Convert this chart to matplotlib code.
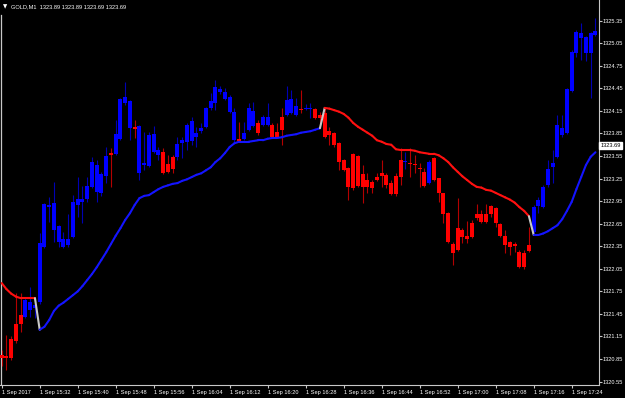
import numpy as np
import matplotlib
matplotlib.use('Agg')
import matplotlib.pyplot as plt
from matplotlib.collections import LineCollection

plt.rcParams['font.family'] = ['Liberation Sans', 'DejaVu Sans']

# GOLD M1 bars, 15:24 .. 17:29
opens = [
    1320.90, 1320.89, 1321.12, 1321.32, 1321.44, 1321.41, 1321.50, 1321.53, 1321.61, 1322.34,
    1322.87, 1322.57, 1322.41, 1322.34, 1322.37, 1322.47, 1322.90, 1322.94, 1322.98, 1323.14,
    1323.07, 1323.06, 1323.28, 1323.59, 1323.58, 1323.78, 1324.26, 1323.92, 1323.94, 1323.32,
    1323.43, 1323.42, 1323.60, 1323.56, 1323.60, 1323.44, 1323.54, 1323.54, 1323.72, 1323.74,
    1323.75, 1323.80, 1323.88, 1323.94, 1324.19, 1324.26, 1324.40, 1324.31, 1324.14, 1323.76,
    1323.78, 1323.78, 1323.90, 1323.95, 1323.99, 1323.96, 1323.96, 1323.96, 1323.87, 1324.07,
    1324.10, 1324.12, 1324.10, 1324.18, 1324.18, 1324.18, 1324.18, 1324.10, 1324.12, 1323.88,
    1323.86, 1323.72, 1323.50, 1323.39, 1323.58, 1323.55, 1323.31, 1323.23, 1323.20, 1323.27,
    1323.33, 1323.30, 1323.19, 1323.28, 1323.50, 1323.47, 1323.46, 1323.44, 1323.39, 1323.34,
    1323.19, 1323.52, 1323.26, 1323.06, 1322.79, 1322.38, 1322.59, 1322.57, 1322.49, 1322.66,
    1322.78, 1322.78, 1322.78, 1322.89, 1322.86, 1322.65, 1322.49, 1322.41, 1322.38, 1322.27,
    1322.26, 1322.37, 1322.54, 1322.89, 1322.87, 1323.16, 1323.40, 1323.54, 1323.83, 1323.86,
    1324.41, 1324.92, 1325.12, 1324.92, 1324.92, 1325.16]
highs = [
    1320.97, 1321.17, 1321.16, 1321.73, 1321.73, 1321.66, 1321.81, 1321.68, 1322.53, 1322.93,
    1323.00, 1323.20, 1322.63, 1322.54, 1322.78, 1323.03, 1323.27, 1323.15, 1323.27, 1323.54,
    1323.50, 1323.34, 1323.67, 1323.66, 1324.03, 1324.32, 1324.53, 1324.30, 1324.03, 1323.96,
    1323.87, 1323.87, 1323.95, 1323.67, 1323.66, 1323.56, 1323.56, 1323.80, 1323.80, 1323.99,
    1324.07, 1323.94, 1323.99, 1324.20, 1324.39, 1324.56, 1324.48, 1324.45, 1324.36, 1324.19,
    1324.00, 1324.00, 1324.26, 1324.27, 1324.03, 1324.10, 1324.26, 1323.99, 1323.99, 1324.19,
    1324.48, 1324.43, 1324.32, 1324.43, 1324.24, 1324.26, 1324.19, 1324.14, 1324.19, 1323.94,
    1323.87, 1323.74, 1323.51, 1323.40, 1323.59, 1323.56, 1323.43, 1323.33, 1323.23, 1323.33,
    1323.50, 1323.33, 1323.23, 1323.33, 1323.66, 1323.60, 1323.66, 1323.56, 1323.46, 1323.39,
    1323.50, 1323.54, 1323.26, 1323.06, 1322.81, 1322.41, 1322.99, 1322.59, 1322.69, 1322.70,
    1322.91, 1322.83, 1322.91, 1322.90, 1322.87, 1322.66, 1322.57, 1322.42, 1322.41, 1322.30,
    1322.30, 1322.61, 1322.90, 1323.00, 1323.16, 1323.50, 1323.63, 1324.10, 1324.10, 1324.45,
    1324.96, 1325.23, 1325.32, 1325.15, 1325.20, 1325.39]
lows = [
    1320.76, 1320.70, 1320.84, 1321.06, 1321.21, 1321.40, 1321.41, 1321.40, 1321.58, 1322.33,
    1322.67, 1322.41, 1322.34, 1322.33, 1322.34, 1322.46, 1322.74, 1322.66, 1322.94, 1323.12,
    1322.94, 1323.02, 1323.19, 1323.14, 1323.56, 1323.76, 1324.23, 1323.76, 1323.79, 1323.23,
    1323.36, 1323.40, 1323.59, 1323.50, 1323.31, 1323.32, 1323.32, 1323.50, 1323.52, 1323.63,
    1323.70, 1323.67, 1323.86, 1323.92, 1324.16, 1324.16, 1324.37, 1324.30, 1324.12, 1323.74,
    1323.74, 1323.76, 1323.88, 1323.94, 1323.83, 1323.95, 1323.95, 1323.79, 1323.79, 1323.70,
    1324.08, 1324.11, 1324.08, 1324.12, 1324.16, 1324.06, 1324.04, 1323.92, 1323.79, 1323.70,
    1323.67, 1323.36, 1323.35, 1322.97, 1323.10, 1323.14, 1322.93, 1323.06, 1323.06, 1323.22,
    1323.14, 1323.12, 1323.03, 1323.02, 1323.17, 1323.38, 1323.27, 1323.32, 1323.14, 1323.14,
    1323.18, 1323.22, 1322.94, 1322.66, 1322.39, 1322.10, 1322.29, 1322.39, 1322.39, 1322.46,
    1322.70, 1322.66, 1322.66, 1322.74, 1322.61, 1322.47, 1322.26, 1322.23, 1322.27, 1322.06,
    1322.05, 1322.27, 1322.53, 1322.79, 1322.86, 1323.14, 1323.19, 1323.52, 1323.80, 1323.84,
    1324.40, 1324.87, 1324.83, 1324.81, 1324.32, 1325.15]
closes = [
    1320.86, 1320.86, 1320.86, 1321.09, 1321.32, 1321.64, 1321.61, 1321.57, 1322.39, 1322.91,
    1322.90, 1322.93, 1322.62, 1322.45, 1322.45, 1322.94, 1322.98, 1322.98, 1323.15, 1323.47,
    1323.43, 1323.31, 1323.55, 1323.56, 1323.84, 1324.31, 1324.34, 1324.28, 1323.91, 1323.95,
    1323.46, 1323.83, 1323.84, 1323.63, 1323.32, 1323.34, 1323.38, 1323.71, 1323.76, 1323.96,
    1324.02, 1323.86, 1323.92, 1324.19, 1324.28, 1324.47, 1324.44, 1324.40, 1324.34, 1324.14,
    1323.75, 1323.86, 1324.19, 1324.15, 1323.86, 1324.07, 1324.07, 1323.80, 1323.80, 1323.90,
    1324.30, 1324.31, 1324.22, 1324.16, 1324.19, 1324.19, 1324.06, 1324.06, 1323.80, 1323.83,
    1323.70, 1323.47, 1323.36, 1323.14, 1323.12, 1323.15, 1323.14, 1323.14, 1323.12, 1323.23,
    1323.28, 1323.17, 1323.05, 1323.05, 1323.27, 1323.48, 1323.44, 1323.43, 1323.38, 1323.15,
    1323.47, 1323.23, 1323.06, 1322.78, 1322.41, 1322.26, 1322.30, 1322.47, 1322.45, 1322.47,
    1322.73, 1322.67, 1322.67, 1322.78, 1322.66, 1322.49, 1322.37, 1322.34, 1322.35, 1322.07,
    1322.07, 1322.29, 1322.87, 1322.97, 1323.14, 1323.38, 1323.46, 1323.96, 1323.92, 1324.44,
    1324.93, 1325.20, 1325.19, 1325.13, 1325.19, 1325.21]
# bar colour painted by the indicator (b = up, r = down)
bar_side = ('rrrrr' 'bbbbbbbbbbbbbbbbbb' 'r' 'bbbb' 'r' 'bbbbb' 'rrr'
            'bbbbbbbbbbbbb' 'r' 'bbb' 'r' 'bb' 'rrr' 'bbb' 'r' 'bb'
            'rrrrrrrrrrrrrrrrrrr' 'b' 'rrrr' 'b' 'rrrrrrrrrrrrrrrrrrrrr'
            'bbbbbbbbbbbbbb')

# trailing trend line
trend = [
    1321.86, 1321.78, 1321.72, 1321.68, 1321.66, 1321.66, 1321.66, 1321.66, 1321.24, 1321.28,
    1321.37, 1321.49, 1321.56, 1321.60, 1321.65, 1321.70, 1321.75, 1321.82, 1321.90, 1321.98,
    1322.07, 1322.17, 1322.27, 1322.38, 1322.49, 1322.59, 1322.70, 1322.79, 1322.90, 1322.99,
    1323.02, 1323.03, 1323.07, 1323.11, 1323.14, 1323.16, 1323.18, 1323.19, 1323.22, 1323.24,
    1323.27, 1323.30, 1323.32, 1323.36, 1323.40, 1323.47, 1323.52, 1323.59, 1323.67, 1323.72,
    1323.74, 1323.74, 1323.74, 1323.75, 1323.76, 1323.76, 1323.78, 1323.79, 1323.79, 1323.80,
    1323.82, 1323.83, 1323.84, 1323.86, 1323.87, 1323.88, 1323.90, 1323.92, 1324.19, 1324.18,
    1324.16, 1324.14, 1324.11, 1324.06, 1323.99, 1323.94, 1323.90, 1323.86, 1323.82, 1323.76,
    1323.74, 1323.71, 1323.70, 1323.64, 1323.63, 1323.63, 1323.63, 1323.62, 1323.60, 1323.59,
    1323.58, 1323.58, 1323.56, 1323.52, 1323.47, 1323.40, 1323.34, 1323.28, 1323.23, 1323.18,
    1323.14, 1323.13, 1323.10, 1323.09, 1323.06, 1323.03, 1323.00, 1322.97, 1322.93, 1322.87,
    1322.82, 1322.75, 1322.50, 1322.50, 1322.52, 1322.55, 1322.59, 1322.63, 1322.71, 1322.82,
    1322.94, 1323.11, 1323.27, 1323.43, 1323.54, 1323.60]
trend_side = 'r' * 8 + 'b' * 60 + 'r' * 44 + 'b' * 14

time_labels = ['1 Sep 2017', '1 Sep 15:32', '1 Sep 15:40', '1 Sep 15:48', '1 Sep 15:56',
               '1 Sep 16:04', '1 Sep 16:12', '1 Sep 16:20', '1 Sep 16:28', '1 Sep 16:36',
               '1 Sep 16:44', '1 Sep 16:52', '1 Sep 17:00', '1 Sep 17:08', '1 Sep 17:16',
               '1 Sep 17:24']
price_ticks = [1320.55, 1320.85, 1321.15, 1321.45, 1321.75, 1322.05, 1322.35, 1322.65,
               1322.95, 1323.25, 1323.55, 1323.85, 1324.15, 1324.45, 1324.75, 1325.05, 1325.35]
header = 'GOLD,M1  1323.89 1323.89 1323.69 1323.69'
bid = 1323.69

BODY = {'b': '#0000ff', 'r': '#ff0000'}
WICK = {'b': '#0000b4', 'r': '#b40000'}
LINE = {'b': '#1414ff', 'r': '#ff1010', 'x': '#c8c8c8'}
FG = '#c8c8c8'
FS = 4.1

W, H = 625, 398
fig = plt.figure(figsize=(W / 100, H / 100), dpi=100, facecolor='black')
ax = fig.add_axes([0, 13 / H, 599 / W, 385 / H], facecolor='black')

n = len(opens)
x = np.arange(n)
o = np.array(opens)
c = np.array(closes)

# wicks then bodies
ax.vlines(x, lows, highs, colors=[WICK[s] for s in bar_side], linewidth=0.8, zorder=2)
bottom = np.minimum(o, c)
height = np.maximum(np.abs(c - o), 0.014)
ax.bar(x, height, bottom=bottom, width=0.84, color=[BODY[s] for s in bar_side],
       linewidth=0, zorder=3)

# trend line, grey where it flips side
pts = np.column_stack([x, trend])
segs = [pts[i:i + 2] for i in range(n - 1)]
seg_cols = [LINE[trend_side[i]] if trend_side[i] == trend_side[i + 1] else LINE['x']
            for i in range(n - 1)]
ax.add_collection(LineCollection(segs, colors=seg_cols, linewidths=1.5, zorder=4,
                                 capstyle='round'))

ax.set_xlim(-0.358, 125.75)
ax.set_ylim(1320.505, 1325.625)

ax.axvline(-0.08, ymax=0.96, color=FG, linewidth=0.9, zorder=1)

for side in ['left', 'top']:
    ax.spines[side].set_visible(False)
for side in ['right', 'bottom']:
    ax.spines[side].set_color(FG)
    ax.spines[side].set_linewidth(0.8)

ax.yaxis.tick_right()
ax.set_yticks(price_ticks)
ax.set_yticklabels(['%.2f' % p for p in price_ticks])
ax.set_xticks(np.arange(0, 8 * len(time_labels), 8))
ax.set_xticklabels(time_labels, ha='left')
ax.tick_params(axis='both', colors=FG, labelcolor='white', labelsize=FS, length=1.8,
               width=0.8, pad=0.8)
ax.tick_params(axis='x', pad=1.5)

ax.annotate('%.2f' % bid, xy=(1.0, bid), xycoords=('axes fraction', 'data'),
            xytext=(1.0, 0), textcoords='offset points', va='center', ha='left',
            fontsize=FS, color='black',
            bbox=dict(boxstyle='square,pad=0.2', fc='white', ec='white'),
            annotation_clip=False)

fig.text(3 / W, 1 - 7 / H, '\u25bc', color='white', fontsize=4, va='center',
         family='DejaVu Sans')
fig.text(11 / W, 1 - 7 / H, header, color='white', fontsize=FS, va='center')

fig.savefig('out.png', dpi=100, facecolor='black')
